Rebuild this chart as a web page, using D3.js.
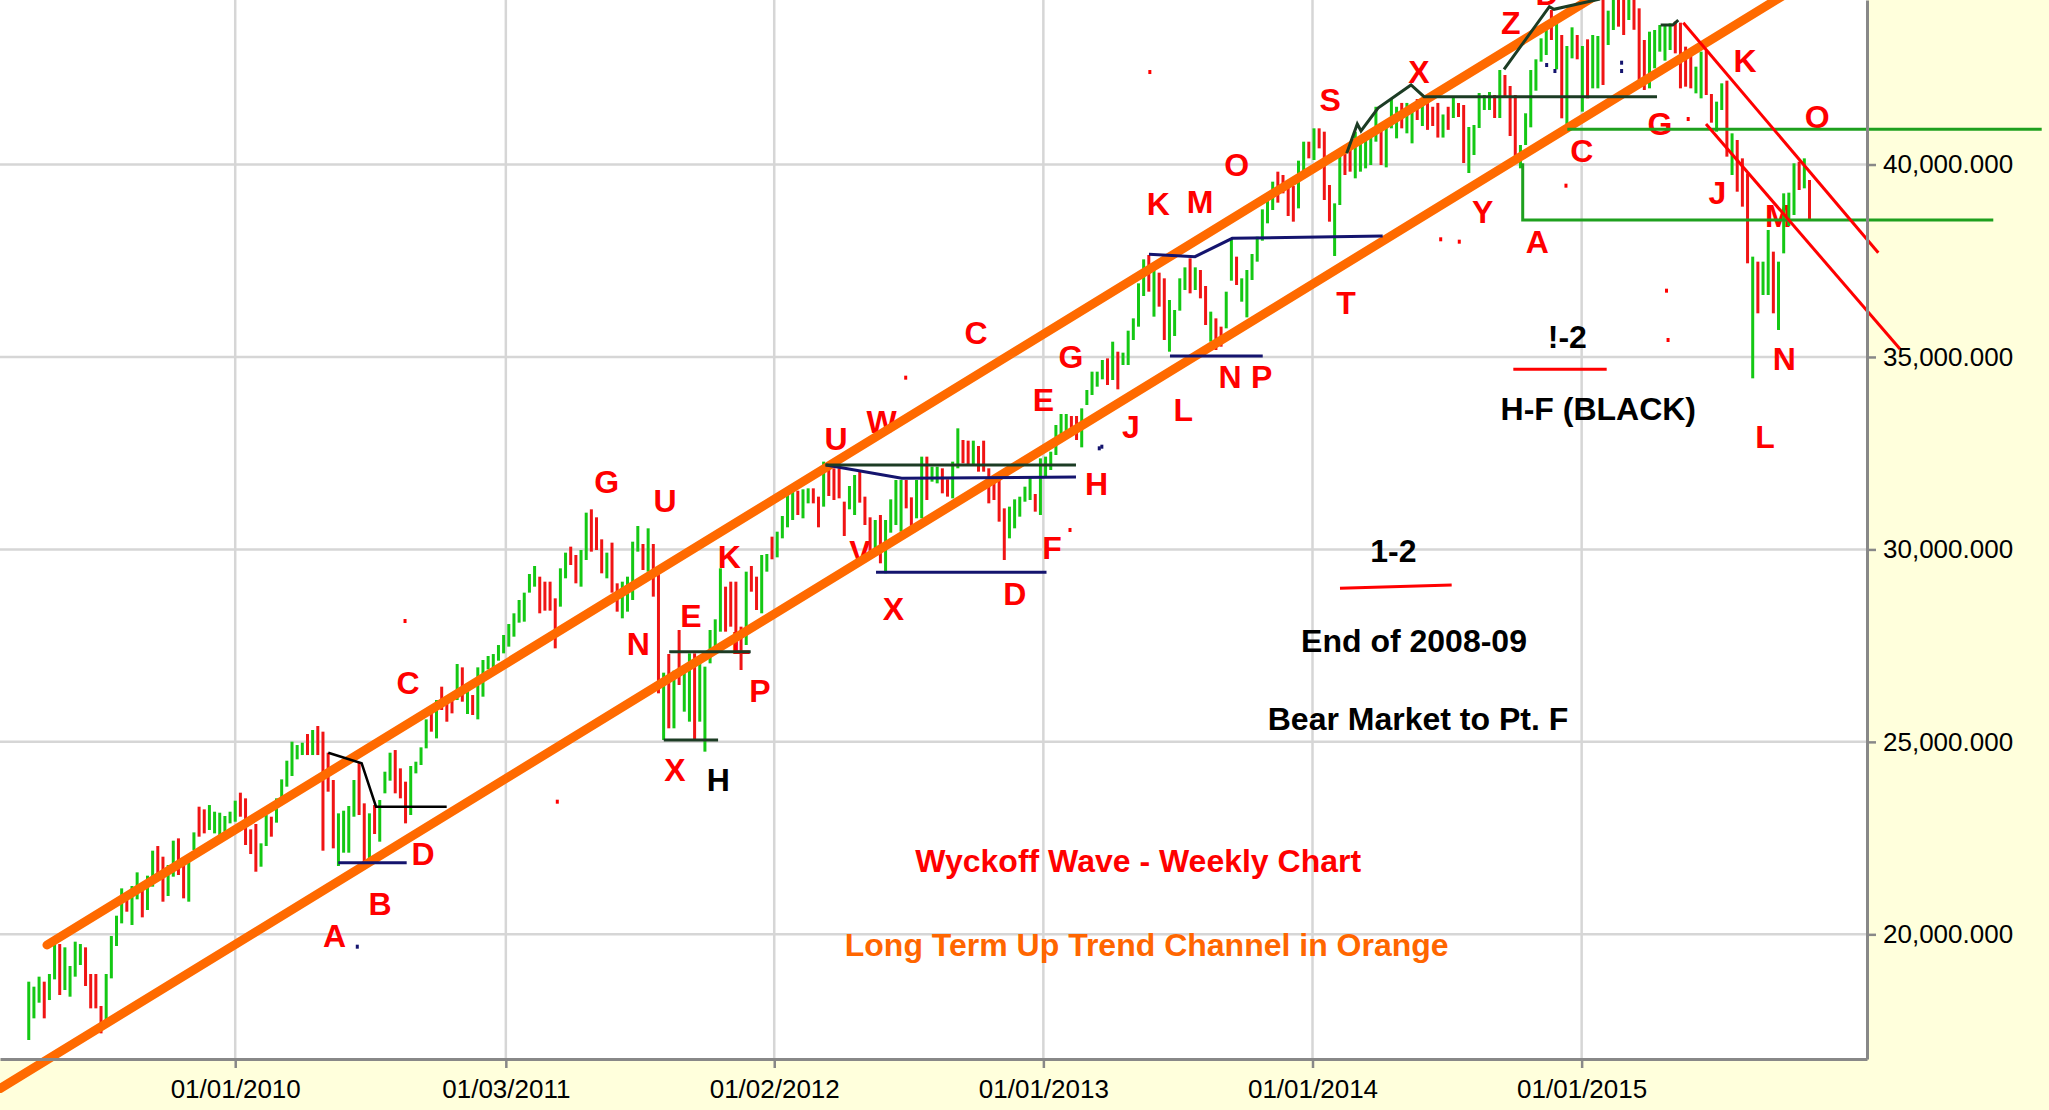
<!DOCTYPE html>
<html>
<head>
<meta charset="utf-8">
<script src="https://cdn.jsdelivr.net/npm/d3@7"></script>
<style>
  body { margin: 0; background: #ffffdc; }
  svg { display: block; font-family: "Liberation Sans", Arial, Helvetica, sans-serif; }
</style>
</head>
<body>
<script>
const W = 2049, H = 1110;
const plotR = 1867, plotB = 1059;

// weekly bars, first one on 27 Mar 2009
const firstWeek = new Date(2009, 2, 27);
const barHigh = [
  18770,18640,18900,18770,18969,19748,19748,19662,19177,19809,
  19748,19662,18969,18969,18138,18969,19956,20484,21194,21021,
  21255,21610,21151,21524,22173,22294,22017,21801,22433,22493,
  21844,21887,22649,23316,23247,23359,23186,23160,23074,23186,
  23472,23680,23533,22727,22866,22364,23100,23056,23533,24026,
  24511,25005,24918,24979,25204,25308,25412,25265,24719,24009,
  23143,23212,23334,24009,24459,23403,23143,23359,23489,24225,
  24719,24788,24312,23966,24373,24485,24858,25585,25784,26087,
  26434,26070,26087,27023,26936,26365,26217,26936,27127,27231,
  27282,27516,27777,28062,28340,28686,28877,29361,29569,29292,
  29162,29162,28729,29509,29916,30072,29855,29985,30955,31042,
  30834,30262,29916,30176,29119,29162,29292,30201,30609,30141,
  30548,30141,29379,26798,27283,26850,27907,26997,27300,27300,
  27170,26954,27907,28184,29509,29032,29162,29162,27993,29422,
  29569,29292,29855,29881,30331,30461,30868,31414,31526,31526,
  31561,31587,31587,31371,32280,32107,32107,32107,31241,31648,
  31933,32020,31371,30834,30764,30894,30764,31301,31804,31804,
  31804,31353,31804,32410,32410,32150,32150,32107,31821,32280,
  33146,32843,32825,32825,32687,32825,32107,31804,31804,31067,
  31111,31301,31370,31630,31907,31440,32366,32410,32539,33232,
  33518,33518,33466,33466,33665,34142,34618,34618,34921,34964,
  35397,35137,35112,35683,36003,36913,37536,37649,37302,37190,
  37043,36480,36220,37043,37328,37562,37328,37259,36844,36177,
  36003,35787,36696,38082,37606,37043,37259,37675,38125,38835,
  39060,39554,39814,39727,39493,39442,40100,40593,40593,40940,
  40940,40853,39467,38991,40333,40507,40550,40853,40637,40810,
  40879,41500,41070,41070,41700,41500,41600,41600,41400,41700,
  41700,41650,41500,41600,41300,41500,41728,41598,41546,40975,
  41027,41858,41806,41884,41806,42455,42326,42040,41806,40507,
  41330,42455,42733,43278,43538,44014,43650,43365,43079,43564,
  43365,43079,43252,43365,43339,44500,43997,44600,44600,44700,
  44600,44500,44057,43235,43451,43495,43624,43599,43668,43711,
  43685,43062,42888,42542,42932,42975,41832,41633,42109,42178,
  40810,40637,40160,39771,37606,37476,37476,38299,37736,37476,
  39251,39269,40031,40074,40160,39598
];
const barLow = [
  17254,17817,18224,17817,18293,18830,18423,18553,18380,18900,
  19203,18657,18077,18077,17427,17687,18856,19696,20285,20588,
  20242,20909,20441,20632,21238,21541,20848,20995,21498,21541,
  20935,20848,22190,22537,22623,22710,22623,22580,22667,22883,
  22926,23056,22320,22086,21627,21757,22294,22537,22901,23359,
  23836,24113,24546,24658,24658,24658,24658,22173,23706,22234,
  21775,22121,22121,23056,23100,21887,21931,22606,22407,23663,
  23992,23663,23533,22883,23100,24182,24399,24832,25265,25091,
  25828,25524,25741,26087,26044,25724,25698,25585,26174,26884,
  26936,27109,27300,27474,27733,28097,28123,28877,29032,28340,
  28409,28409,27430,28513,29249,29595,29119,29032,29725,29942,
  29985,29379,29249,28877,28383,28210,28383,28686,29942,29465,
  29422,28773,26261,25049,25352,25352,26478,25785,25525,25049,
  25525,24746,27041,27300,27863,27863,27993,27517,26867,27517,
  28902,28426,28340,29422,29743,29794,30288,30574,30764,30894,
  30808,31197,31197,30574,31111,31388,31284,31327,30349,31042,
  30894,31215,30634,29898,29985,29639,29379,30435,30634,30461,
  31067,30609,30808,30808,31284,31760,31717,31457,31371,31327,
  32107,32237,32193,32193,32020,32020,31197,31284,30721,29725,
  30288,30548,30851,31240,31284,30981,30894,31890,32063,32453,
  32947,32972,33085,32843,32652,33752,34012,34228,34419,34271,
  34401,34159,34791,34791,35441,35787,36584,36696,36047,36307,
  35441,35137,35545,36203,36740,36653,36740,36523,35830,35397,
  35181,35267,35744,36982,36869,36436,36029,36999,37476,38021,
  38472,38818,39009,39251,38662,38515,38861,39814,40160,40117,
  40420,39078,38515,37623,38948,39727,39814,39641,39814,39900,
  39987,40593,39987,39926,40940,40680,40940,40810,40550,41156,
  41000,40900,41000,40700,40700,40900,41208,41234,40039,39779,
  40247,40949,41416,41416,41208,41208,41728,40741,40195,39901,
  40507,40966,41918,42672,42845,43235,42473,41200,40940,42758,
  42733,41373,41719,41979,41979,42066,43105,43495,43581,43365,
  43754,43500,42196,41936,41979,42499,42932,42698,42975,42888,
  41979,42022,41979,41849,41719,41806,41087,40853,41416,40204,
  39727,39294,38905,37433,34445,36134,36610,36610,36134,35701,
  37692,38403,38688,39338,39381,38558
];
// 1 = up week (green), 0 = down week (red)
const barUp = [
  1,1,1,0,1,1,0,1,1,1, 1,0,0,0,0,1,1,1,1,0, 1,1,0,1,1,0,0,1,1,0, 0,1,1,0,0,1,1,1,1,1,
  1,0,0,0,0,1,1,0,1,1, 1,1,1,1,0,1,0,0,0,0, 1,1,1,1,0,0,1,0,1,1, 1,0,0,0,1,1,1,1,0,1,
  0,0,0,1,0,1,0,1,1,1, 1,1,1,1,1,1,1,1,1,0, 0,0,0,1,1,0,0,1,1,0, 0,0,1,0,0,1,1,1,1,0,
  1,0,0,1,0,1,0,1,1,0, 1,1,1,1,1,0,0,0,0,1, 0,0,1,1,0,1,1,1,1,0, 1,1,0,0,1,0,0,0,0,1,
  1,0,0,0,1,0,1,1,1,1, 0,0,1,1,0,1,1,0,0,1, 1,0,0,1,0,0,0,0,0,0, 1,1,1,1,1,0,1,1,1,1,
  1,1,0,0,1,1,1,1,1,0, 1,0,1,1,1,1,1,0,1,0, 0,1,1,1,1,0,1,0,0,1, 0,0,1,1,0,1,1,1,1,1,
  1,1,0,0,0,0,1,1,0,1, 0,0,0,1,1,0,0,1,1,1, 1,1,0,1,1,1,0,1,1,0, 1,0,0,0,1,0,1,0,0,1,
  1,1,1,1,0,1,0,0,0,1, 1,1,1,1,1,0,1,0,1,1, 0,1,0,1,1,0,1,1,0,0, 1,0,0,0,1,1,1,1,1,0,
  0,0,0,1,1,0,0,1,1,0, 1,0,0,0,1,0,1,1,0,1, 1,1,1,0,1,0
];

const xTickDates = ["2010-01-01", "2011-01-03", "2012-01-02", "2013-01-01", "2014-01-01", "2015-01-01"];
const yTicks = [20000, 25000, 30000, 35000, 40000];

// annotation points are [week number from the first bar, value]
const channelUpper = [[3.53, 19723], [314.1, 45252]];
const channelLower = [[-5.57, 15992], [343.2, 44659]];

const blackLines = [
  [[58.03, 24719], [64.5, 24443], [67.28, 23316], [80.97, 23316]]
];
const navyLines = [
  [[59.97, 21861], [73.22, 21861]],
  [[154.46, 32193], [169.13, 31848], [202.89, 31882]],
  [[164.15, 29406], [197.18, 29406]],
  [[217.03, 37667], [225.95, 37605], [233.17, 38083], [262.31, 38143]],
  [[221.1, 35025], [239.07, 35025]]
];
const darkLines = [
  [[124.08, 27343], [139.87, 27343]],
  [[123.03, 25049], [133.55, 25049]],
  [[154.32, 32193], [202.89, 32193]],
  [[255.34, 40291], [257.39, 41052], [258.11, 40871], [261.41, 41468], [267.8, 42066], [270.32, 41762], [315.46, 41762]],
  [[285.82, 42474], [294.6, 44100], [295.5, 44032], [304.41, 44300]],
  [[316.17, 43624], [318.5, 43624], [319.58, 43754]]
];
const greenLines = [
  [[298.08, 40915], [389.99, 40915]],
  [[289.44, 40031], [289.44, 38558], [380.61, 38558]]
];
const redLines = [
  [[320.55, 43684], [358.33, 37709]],
  [[324.95, 41052], [362.54, 35207]],
  [[287.62, 34680], [305.71, 34680]],
  [[254.04, 28990], [275.68, 29076]]
];
const redDots = [[72.9, 28140], [102.4, 23446], [201.73, 30505], [273.55, 38057], [277.15, 37995],
  [297.82, 39450], [321.5, 41182], [217.2, 42403], [169.9, 34462], [317.3, 36722], [317.6, 35441]];
const navyDots = [[63.65, 19679], [207.4, 32627], [207.9, 32669], [294.08, 42585], [295.68, 42429],
  [308.6, 42645], [308.6, 42429]];

const letters = [
  ["A", 59.23, 19965], ["B", 68.05, 20814], ["C", 73.47, 26556], ["D", 76.38, 22113],
  ["G", 111.97, 31759], ["U", 123.27, 31284], ["N", 118.09, 27561], ["E", 128.3, 28296],
  ["K", 135.72, 29811], ["L", 137.99, 27595], ["P", 141.67, 26348], ["X", 125.2, 24288],
  ["U", 156.4, 32887], ["W", 165.25, 33318], ["V", 161.05, 29941], ["X", 167.5, 28470],
  ["D", 191.02, 28860], ["F", 198.23, 30055], ["H", 206.9, 31718], ["E", 196.56, 33900],
  ["G", 201.92, 35025], ["J", 213.55, 33188], ["C", 183.52, 35649], ["K", 218.84, 38992],
  ["M", 226.92, 39034], ["O", 234.03, 40005], ["L", 223.68, 33640], ["N", 232.73, 34487],
  ["P", 238.87, 34487], ["T", 255.2, 36410], ["S", 252.16, 41694], ["X", 269.35, 42406],
  ["Y", 281.69, 38774], ["Z", 287.12, 43684], ["D", 294.15, 44456], ["A", 292.27, 37995],
  ["C", 300.87, 40359], ["G", 316.04, 41071], ["K", 332.51, 42715], ["O", 346.51, 41260],
  ["J", 327.14, 39268], ["M", 338.96, 38688], ["N", 340.12, 34965], ["L", 336.38, 32929]
];
const blackTexts = [
  ["H", 133.59, 24010], ["!-2", 298.08, 35527], ["H-F (BLACK)", 304.08, 33666], ["1-2", 264.37, 29967],
  ["End of 2008-09", 268.38, 27647], ["Bear Market to Pt. F", 269.15, 25602]
];
const titles = [
  ["Wyckoff Wave - Weekly Chart", 214.95, 21931, "#ff0000"],
  ["Long Term Up Trend Channel in Orange", 216.59, 19728, "#ff6600"]
];

const WEEK = 7 * 24 * 3600 * 1000;
const x = d3.scaleTime().domain([new Date(2009, 1, 16), new Date(2016, 0, 23)]).range([0, plotR]);
const y = d3.scaleLinear().domain([16761, 44274]).range([plotB, 0]);
const xAt = i => x(new Date(firstWeek.getTime() + i * WEEK));
const line = d3.line().x(d => xAt(d[0])).y(d => y(d[1]));

const svg = d3.select("body").append("svg").attr("width", W).attr("height", H);

svg.append("rect").attr("width", W).attr("height", H).attr("fill", "#ffffdc");
svg.append("rect").attr("width", plotR).attr("height", plotB).attr("fill", "#ffffff");

// grid
const tickDates = xTickDates.map(s => d3.timeParse("%Y-%m-%d")(s));
svg.append("g").selectAll("line").data(tickDates).join("line")
  .attr("x1", d => x(d)).attr("x2", d => x(d)).attr("y1", 0).attr("y2", plotB)
  .attr("stroke", "#d6d6d6").attr("stroke-width", 2.5);
svg.append("g").selectAll("line").data(yTicks).join("line")
  .attr("x1", 0).attr("x2", plotR).attr("y1", d => y(d)).attr("y2", d => y(d))
  .attr("stroke", "#d6d6d6").attr("stroke-width", 2.5);

// text labels sit under the bars
const textLayer = svg.append("g").attr("font-weight", "bold").attr("font-size", 32).attr("text-anchor", "middle");
textLayer.selectAll(".letter").data(letters).join("text").attr("class", "letter")
  .attr("x", d => xAt(d[1])).attr("y", d => y(d[2])).attr("dy", "0.36em")
  .attr("fill", "#ff0000").text(d => d[0]);
textLayer.selectAll(".blk").data(blackTexts).join("text").attr("class", "blk")
  .attr("x", d => xAt(d[1])).attr("y", d => y(d[2])).attr("dy", "0.36em")
  .attr("fill", "#000").text(d => d[0]);
textLayer.selectAll(".ttl").data(titles).join("text").attr("class", "ttl")
  .attr("x", d => xAt(d[1])).attr("y", d => y(d[2])).attr("dy", "0.36em")
  .attr("fill", d => d[3]).text(d => d[0]);

// weekly high-low bars
svg.append("g").selectAll("line").data(barHigh).join("line")
  .attr("x1", (d, i) => xAt(i)).attr("x2", (d, i) => xAt(i))
  .attr("y1", d => y(d)).attr("y2", (d, i) => y(barLow[i]))
  .attr("stroke", (d, i) => barUp[i] ? "#14c814" : "#f01414")
  .attr("stroke-width", 3);

// trend channel
svg.append("g").selectAll("path").data([channelUpper, channelLower]).join("path")
  .attr("d", line).attr("fill", "none").attr("stroke", "#ff6a00")
  .attr("stroke-width", 9).attr("stroke-linecap", "round");

const drawLines = (data, color, width) => svg.append("g").selectAll("path").data(data).join("path")
  .attr("d", line).attr("fill", "none").attr("stroke", color).attr("stroke-width", width);
drawLines(blackLines, "#000000", 2.5);
drawLines(navyLines, "#14146e", 3);
drawLines(darkLines, "#1c3c24", 3);
drawLines(greenLines, "#1ea01e", 3);
drawLines(redLines, "#ff0000", 3);

svg.append("g").selectAll("rect").data(redDots).join("rect")
  .attr("x", d => xAt(d[0]) - 1.5).attr("y", d => y(d[1]) - 2).attr("width", 3).attr("height", 4).attr("fill", "#ff0000");
svg.append("g").selectAll("rect").data(navyDots).join("rect")
  .attr("x", d => xAt(d[0]) - 1.5).attr("y", d => y(d[1]) - 2).attr("width", 3).attr("height", 4).attr("fill", "#14146e");

// axes
const xAxis = svg.append("g").attr("transform", `translate(0,${plotB})`)
  .call(d3.axisBottom(x).tickValues(tickDates).tickFormat(d3.timeFormat("%m/%d/%Y"))
    .tickSize(9).tickSizeOuter(0).tickPadding(12));
const yAxis = svg.append("g").attr("transform", `translate(${plotR},0)`)
  .call(d3.axisRight(y).tickValues(yTicks).tickFormat(d3.format(",.3f"))
    .tickSize(9).tickSizeOuter(0).tickPadding(7));
[xAxis, yAxis].forEach(a => {
  a.select(".domain").attr("stroke", "#888").attr("stroke-width", 3);
  a.selectAll(".tick line").attr("stroke", "#888").attr("stroke-width", 2.5);
  a.selectAll(".tick text").attr("font-size", 26).attr("fill", "#000")
    .attr("font-family", "'Liberation Sans', Arial, sans-serif");
});
</script>
</body>
</html>
